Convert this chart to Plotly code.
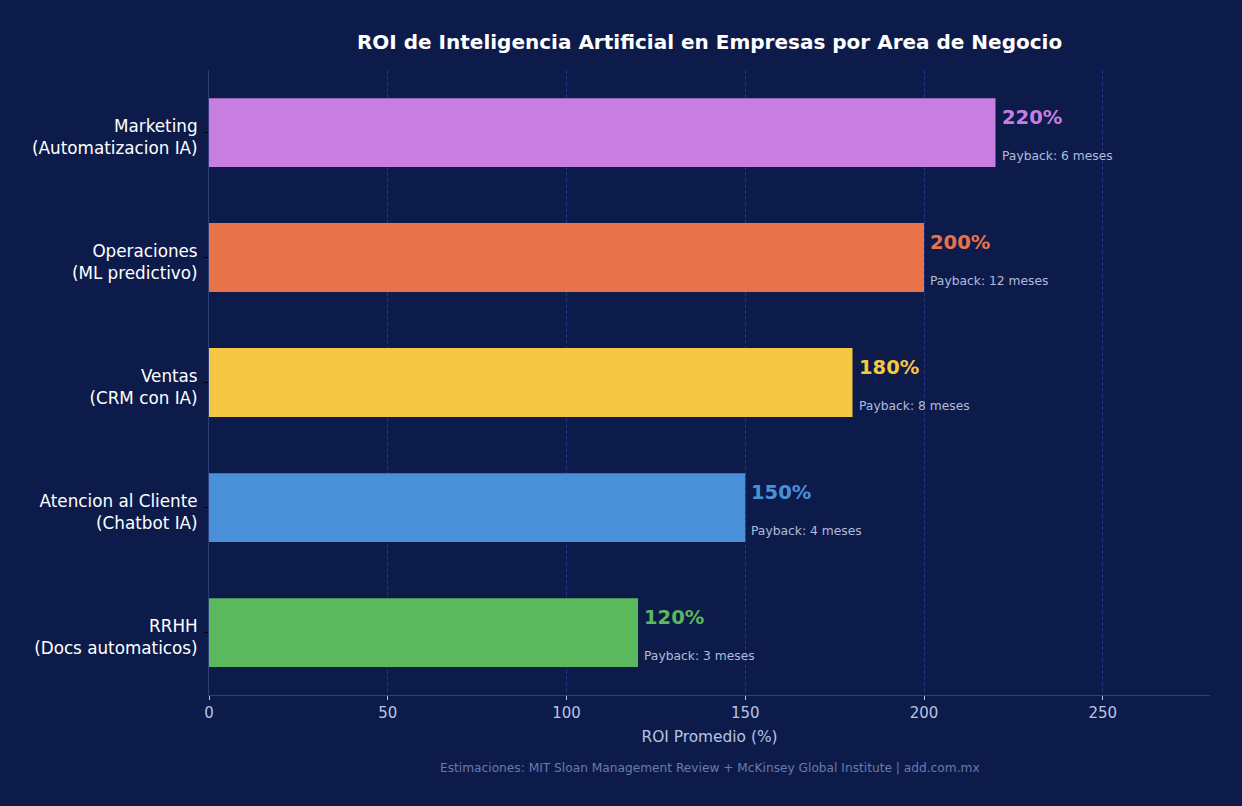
import plotly.graph_objects as go

areas = ["Marketing<br>(Automatizacion IA)", "Operaciones<br>(ML predictivo)", "Ventas<br>(CRM con IA)",
         "Atencion al Cliente<br>(Chatbot IA)", "RRHH<br>(Docs automaticos)"]
roi = [220, 200, 180, 150, 120]
payback = [6, 12, 8, 4, 3]
colors = ["#c77ee0", "#e8734a", "#f4c842", "#4a90d9", "#5cb85c"]

BG = "#0d1b4b"
FONT = "DejaVu Sans"

fig = go.Figure()
fig.add_trace(go.Bar(
    x=roi, y=areas, orientation="h", width=0.55,
    marker=dict(color=colors, line=dict(width=0)),
    hoverinfo="skip",
))

for a, v, p, c in zip(areas, roi, payback, colors):
    fig.add_annotation(x=v, y=a, xref="x", yref="y", text=f"<b>{v}%</b>", showarrow=False,
                       xanchor="left", yanchor="middle", xshift=4, yshift=15,
                       font=dict(family=FONT, size=19.5, color=c))
    fig.add_annotation(x=v, y=a, xref="x", yref="y", text=f"Payback: {p} meses", showarrow=False,
                       xanchor="left", yanchor="middle", xshift=4, yshift=-23,
                       font=dict(family=FONT, size=12.3, color="#b0bcd8"))

fig.add_annotation(x=0.5, y=-0.116, xref="paper", yref="paper",
                   text="Estimaciones: MIT Sloan Management Review + McKinsey Global Institute | add.com.mx",
                   showarrow=False, xanchor="center", yanchor="middle",
                   font=dict(family=FONT, size=12.2, color="#6a7aaa"))

fig.update_layout(
    width=1242, height=806,
    paper_bgcolor=BG, plot_bgcolor=BG,
    margin=dict(l=209, r=32, t=70, b=111),
    showlegend=False,
    font=dict(family=FONT, color="white"),
    title=dict(text="<b>ROI de Inteligencia Artificial en Empresas por Area de Negocio</b>",
               x=0.5713, xanchor="center", y=0.948, yanchor="middle",
               font=dict(family=FONT, size=20, color="white")),
    bargap=0.45,
)
fig.update_xaxes(
    range=[0, 280], tickvals=[0, 50, 100, 150, 200, 250],
    showgrid=True, gridcolor="#1f3480", griddash="4px,2px", gridwidth=1,
    zeroline=False,
    showline=True, linecolor="#2e3f78", linewidth=1,
    ticks="outside", ticklen=4, tickcolor="#b8c4e0",
    tickfont=dict(family=FONT, size=15, color="#b8c4e0"),
    title=dict(text="ROI Promedio (%)", font=dict(family=FONT, size=15.4, color="#b8c4e0"), standoff=10),
)
fig.update_yaxes(
    categoryorder="array", categoryarray=list(reversed(areas)),
    range=[-0.5, 4.5],
    showgrid=False, zeroline=False,
    showline=True, linecolor="#2e3f78", linewidth=1,
    ticks="outside", ticklen=4, tickcolor="#000000",
    ticklabelstandoff=3, ticklabelshift=5,
    tickfont=dict(family=FONT, size=16.8, color="white"),
)

fig.write_html("out.html")
